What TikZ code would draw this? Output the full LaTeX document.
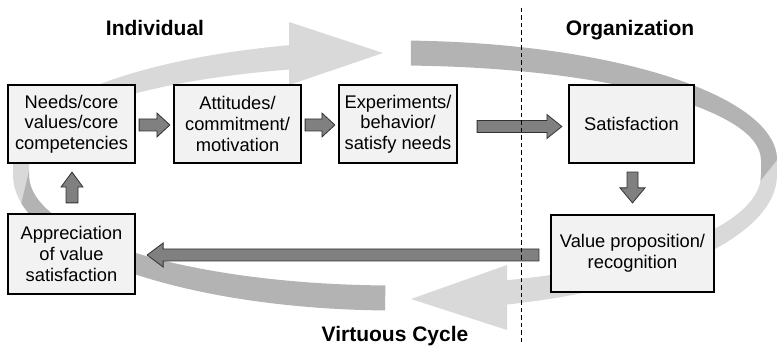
\documentclass[tikz,border=0pt]{standalone}
\usepackage{fontspec}
\setmainfont{Liberation Sans}
\usetikzlibrary{calc}

\definecolor{ringlight}{RGB}{217,217,217}
\definecolor{ringdark}{RGB}{179,179,179}
\definecolor{boxfill}{RGB}{242,242,242}
\definecolor{arrowfill}{RGB}{128,128,128}

% block arrow from #1 to #2: shaft half-width #3, head half-width #4, head length #5
\newcommand\blockconn[5]{%
  \coordinate (bc-a) at #1;
  \coordinate (bc-b) at #2;
  \coordinate (bc-h) at ($(bc-b)!#5!(bc-a)$);
  \draw[blockarrow] ($(bc-a)!#3!90:(bc-b)$) -- ($(bc-h)!#3!90:(bc-b)$)
    -- ($(bc-h)!#4!90:(bc-b)$) -- (bc-b) -- ($(bc-h)!#4!-90:(bc-b)$)
    -- ($(bc-h)!#3!-90:(bc-b)$) -- ($(bc-a)!#3!-90:(bc-b)$) -- cycle;
}

\begin{document}
\begin{tikzpicture}[x=1pt,y=-1pt,
  stage/.style={draw=black, line width=2.2pt, fill=boxfill, align=center,
    font=\fontsize{18.3}{20.6}\selectfont, inner sep=0pt},
  blockarrow/.style={fill=arrowfill, draw=black!80, line width=0.8pt, line join=miter},
  heading/.style={font=\fontsize{21}{25}\selectfont\bfseries, inner sep=0pt, anchor=base},
  divider/.style={draw=black, line width=1pt, dash pattern=on 4.5pt off 3pt},
]
\useasboundingbox (0,0) rectangle (777,347);

% ---- the cycle ribbon: top half centred at (395,160), bottom half at (395,175)
% left ribbon, light part running up the left side to the arrowhead at the top
\fill[ringlight]
  ($(395,175)+(160:382 and 135.5)$) arc[start angle=160, end angle=180, x radius=382, y radius=135.5]
  -- ($(395,160)+(180:382 and 119.5)$) arc[start angle=180, end angle=253.9, x radius=382, y radius=119.5]
  -- ($(395,160)+(253.2:366 and 94.5)$) arc[start angle=253.2, end angle=180, x radius=366, y radius=94.5]
  -- ($(395,175)+(180:366 and 110.5)$) arc[start angle=180, end angle=160, x radius=366, y radius=110.5]
  -- cycle;
\fill[ringlight] (289,22) -- (383,53) -- (289,85) -- cycle;
% left ribbon, dark tail along the bottom
\fill[ringdark]
  ($(395,175)+(91.5:382 and 135.5)$) arc[start angle=91.5, end angle=168, x radius=382, y radius=135.5]
  -- (29,171) -- (29,175)
  arc[start angle=180, end angle=91.5, x radius=366, y radius=110.5]
  -- cycle;

% right ribbon, light part running down the right side to the arrowhead at the bottom
\fill[ringlight]
  ($(395,175)+(72.95:382 and 135.5)$) arc[start angle=72.95, end angle=0, x radius=382, y radius=135.5]
  -- ($(395,160)+(360:382 and 119.5)$) arc[start angle=360, end angle=350, x radius=382, y radius=119.5]
  -- ($(395,160)+(350:366 and 94.5)$) arc[start angle=350, end angle=360, x radius=366, y radius=94.5]
  -- ($(395,175)+(0:366 and 110.5)$) arc[start angle=0, end angle=72.2, x radius=366, y radius=110.5]
  -- cycle;
\fill[ringlight] (507,265) -- (411,299) -- (507,330) -- cycle;
% right ribbon, dark tail across the top
\fill[ringdark]
  ($(395,160)+(272.4:382 and 119.5)$) arc[start angle=272.4, end angle=360, x radius=382, y radius=119.5]
  -- ($(395,175)+(3:366 and 110.5)$) arc[start angle=3, end angle=0, x radius=366, y radius=110.5]
  -- ($(395,160)+(360:366 and 94.5)$) arc[start angle=360, end angle=272.5, x radius=366, y radius=94.5]
  -- cycle;

% ---- stages
\node[stage, minimum width=127, minimum height=78] (needs) at (71.5,124) {Needs/core\\values/core\\competencies};
\node[stage, minimum width=127, minimum height=78] (att) at (237.5,124) {Attitudes/\\commitment/\\motivation};
\node[stage, minimum width=118, minimum height=78] (exp) at (398,124) {Experiments/\\behavior/\\satisfy needs};
\node[stage, minimum width=125, minimum height=78] (sat) at (631.5,124) {Satisfaction};
\node[stage, minimum width=163, minimum height=77] (value) at (632.5,253.5) {Value proposition/\\recognition};
\node[stage, minimum width=127, minimum height=80] (app) at (71.5,254) {Appreciation\\of value\\satisfaction};

% ---- connectors
\blockconn{($(needs.east)+(3,1)$)}{($(att.west)+(-3,1)$)}{6pt}{12pt}{13pt}
\blockconn{($(att.east)+(3,1)$)}{($(exp.west)+(-3,1)$)}{6pt}{12pt}{13pt}
\blockconn{($(exp.east)+(19,2.5)$)}{($(sat.west)+(-6,2.5)$)}{6pt}{12pt}{15pt}
\blockconn{($(sat.south)+(1,8)$)}{($(value.north)+(0,-11)$)}{5.5pt}{12.5pt}{15pt}
\blockconn{($(value.west)+(-11,1.5)$)}{($(app.east)+(11,1)$)}{6pt}{12pt}{16pt}
\blockconn{($(app.north)+(0.5,-10)$)}{($(needs.south)+(0.5,8)$)}{6pt}{11pt}{15pt}

% ---- divider between individual and organization
\coordinate (divtop) at (521,8);
\coordinate (divbot) at (521,344);
\draw[divider] (divtop) -- (divbot);

% ---- headings
\node[heading] (hind) at (155,36) {Individual};
\node[heading] (horg) at (630,36) {Organization};
\node[heading] (hcyc) at (395,342) {Virtuous Cycle};
\end{tikzpicture}
\end{document}
